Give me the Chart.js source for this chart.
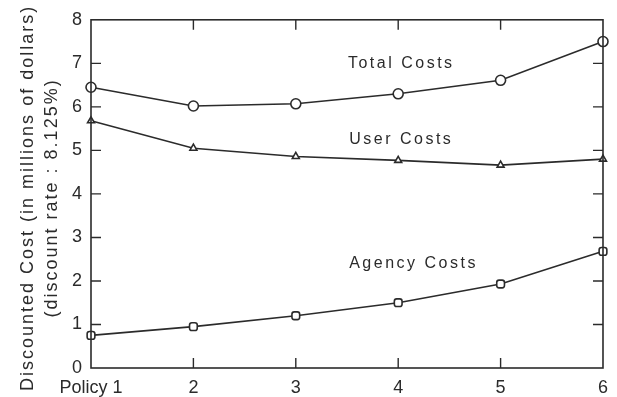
<!DOCTYPE html>
<html>
<head>
<meta charset="utf-8">
<script src="https://cdn.jsdelivr.net/npm/chart.js@4"></script>
<style>
  html, body { margin: 0; padding: 0; background: #fff; }
  #wrap { width: 617px; height: 397px; }
</style>
</head>
<body>
<div id="wrap"><canvas id="costChart"></canvas></div>
<script>
// Discounted cost per maintenance policy (millions of dollars)
const policies    = ["Policy 1", "2", "3", "4", "5", "6"];
const totalCosts  = [6.45, 6.02, 6.07, 6.30, 6.61, 7.50];
const userCosts   = [5.68, 5.05, 4.86, 4.77, 4.66, 4.80];
const agencyCosts = [0.75, 0.95, 1.20, 1.50, 1.93, 2.68];
const yTicks      = [0, 1, 2, 3, 4, 5, 6, 7, 8];
const yTitle      = ["Discounted Cost (in millions of dollars)", "(discount rate : 8.125%)"];

// curve labels, placed in data units
const curveLabels = [
  { text: "Total Costs",  x: 3.03, y: 7.0 },
  { text: "User Costs",   x: 3.03, y: 5.25 },
  { text: "Agency Costs", x: 3.15, y: 2.4 }
];

const ink = "#2b2b2b";
const font = "'Liberation Sans', Arial, sans-serif";

// ── frame, inward ticks, curve labels, spaced y title ───────
const framePlugin = {
  id: "frame",
  afterDatasetsDraw(chart) {
    const { ctx, chartArea: a, scales } = chart;
    const x = scales.x, y = scales.y;
    ctx.save();
    ctx.strokeStyle = ink;
    ctx.lineWidth = 1.6;
    ctx.strokeRect(a.left, a.top, a.right - a.left, a.bottom - a.top);

    ctx.lineWidth = 1.4;
    ctx.beginPath();
    yTicks.slice(1, -1).forEach(v => {
      const py = y.getPixelForValue(v);
      ctx.moveTo(a.left, py);  ctx.lineTo(a.left + 10, py);
      ctx.moveTo(a.right, py); ctx.lineTo(a.right - 10, py);
    });
    for (let i = 1; i < policies.length - 1; i++) {
      const px = x.getPixelForValue(i);
      ctx.moveTo(px, a.bottom); ctx.lineTo(px, a.bottom - 10);
      ctx.moveTo(px, a.top);    ctx.lineTo(px, a.top + 10);
    }
    ctx.stroke();

    ctx.fillStyle = ink;
    ctx.font = "16px " + font;
    ctx.letterSpacing = "2.5px";
    ctx.textAlign = "center";
    ctx.textBaseline = "middle";
    curveLabels.forEach(l => {
      ctx.fillText(l.text, x.getPixelForValue(l.x), y.getPixelForValue(l.y));
    });

    // axis title, two rotated lines (baseline on the right side)
    const midY = (a.top + a.bottom) / 2 + 4;
    ctx.font = "18px " + font;
    ctx.letterSpacing = "2px";
    ctx.textBaseline = "alphabetic";
    [33, 57].forEach((bx, i) => {
      ctx.save();
      ctx.translate(bx, midY);
      ctx.rotate(-Math.PI / 2);
      ctx.fillText(yTitle[i], 0, 0);
      ctx.restore();
    });
    ctx.restore();
  }
};

function series(label, data, style, radius) {
  return {
    label: label,
    data: data,
    borderColor: ink,
    borderWidth: 1.6,
    pointStyle: style,
    pointRadius: radius,
    pointBorderWidth: 1.6,
    pointBackgroundColor: "#fff",
    pointBorderColor: ink,
    tension: 0,
    clip: false
  };
}

new Chart(document.getElementById("costChart").getContext("2d"), {
  type: "line",
  data: {
    labels: policies,
    datasets: [
      series("Total Costs",  totalCosts,  "circle",   5),
      series("User Costs",   userCosts,   "triangle", 4),
      series("Agency Costs", agencyCosts, "rectRounded", 4.5)
    ]
  },
  options: {
    responsive: true,
    maintainAspectRatio: false,
    animation: false,
    layout: { padding: { top: 15, right: 10, left: 0, bottom: 0 } },
    plugins: {
      legend: { display: false },
      tooltip: { enabled: false }
    },
    scales: {
      x: {
        type: "category",
        offset: false,
        grid: { display: false, drawTicks: false },
        border: { display: false },
        ticks: {
          color: ink,
          padding: 9,
          maxRotation: 0,
          font: { family: font, size: 18 }
        },
        afterFit(scale) { scale.height = 29; }
      },
      y: {
        min: 0,
        max: 8,
        grid: { display: false, drawTicks: false },
        border: { display: false },
        ticks: {
          stepSize: 1,
          color: ink,
          padding: 9,
          font: { family: font, size: 18 }
        },
        title: { display: false },
        afterFit(scale) { scale.width = 91; }
      }
    }
  },
  plugins: [framePlugin]
});
</script>
</body>
</html>
